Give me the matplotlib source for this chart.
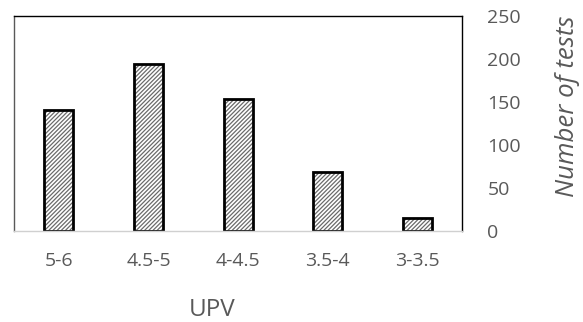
import matplotlib.pyplot as plt

plt.rcParams['font.family'] = ['Open Sans', 'DejaVu Sans']
plt.rcParams['hatch.linewidth'] = 0.9

categories = ['5-6', '4.5-5', '4-4.5', '3.5-4', '3-3.5']
tests = [141, 194, 154, 68, 15]
yticks = [0, 50, 100, 150, 200, 250]

fig = plt.figure(figsize=(5.83, 3.22), dpi=100)
ax = fig.add_axes([0.024, 0.283, 0.769, 0.667])

x = range(len(categories))
# hatched fill in grey, then a black outline on top
ax.bar(x, tests, width=0.32, color='white', edgecolor='#6a6a6a', hatch='////////', linewidth=0)
ax.bar(x, tests, width=0.32, fill=False, edgecolor='black', linewidth=2)

ax.set_xlim(-0.5, 4.5)
ax.set_ylim(0, 250)
ax.set_xticks(list(x))
ax.set_xticklabels(categories)
ax.set_yticks(yticks)
ax.yaxis.tick_right()
ax.yaxis.set_label_position('right')
ax.tick_params(axis='both', length=0, labelsize=14, colors='#595959')
ax.tick_params(axis='x', pad=15)
ax.tick_params(axis='y', pad=18)

ax.spines['top'].set_color('black')
ax.spines['right'].set_color('black')
ax.spines['left'].set_color('#595959')
ax.spines['bottom'].set_color('#d0d0d0')
for s in ax.spines.values():
    s.set_linewidth(1)

ax.set_xlabel('UPV', fontsize=17.5, color='#595959', va='center')
ax.xaxis.set_label_coords(0.442, -0.37)
ax.set_ylabel('Number of tests', fontsize=18.5, color='#595959', style='italic',
              va='center', ha='center')
ax.yaxis.set_label_coords(1.235, 0.58)

fig.savefig('out.png', dpi=100)
